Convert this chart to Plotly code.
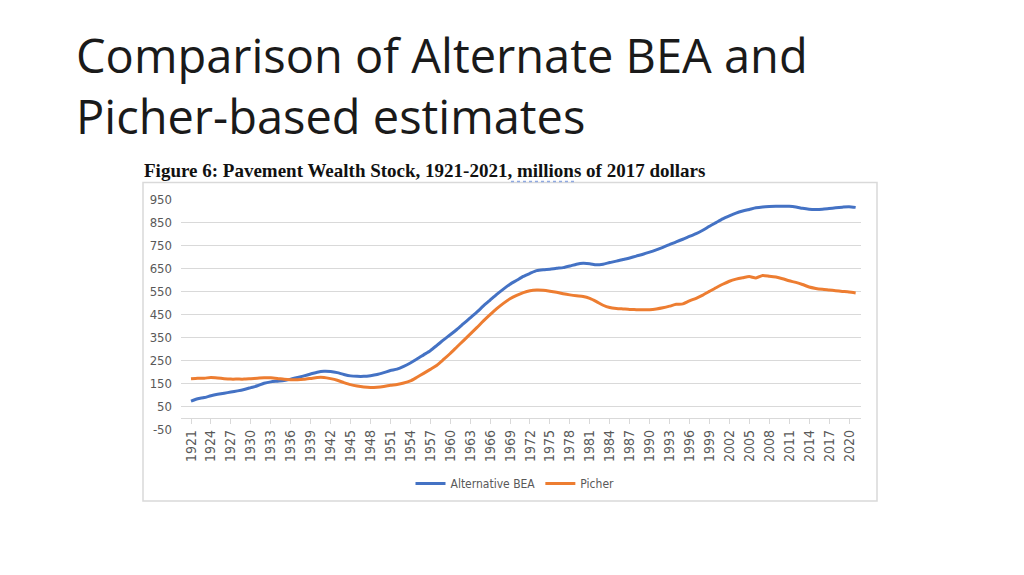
import plotly.graph_objects as go

# %%
years = list(range(1921, 2022))

alt_bea = [
    75, 85, 90, 98, 104, 109, 114, 119, 125, 133,
    141, 152, 158, 161, 164, 170, 177, 184, 192, 200,
    204, 203, 198, 190, 184, 182, 182, 185, 190, 198,
    207, 213, 225, 240, 257, 275, 293, 316, 340, 362,
    385, 410, 435, 460, 487, 512, 537, 560, 581, 598,
    615, 628, 640, 644, 646, 650, 653, 660, 668, 672,
    670, 665, 668, 675, 681, 688, 695, 703, 711, 720,
    730, 741, 753, 765, 776, 788, 800, 815, 832, 848,
    864, 877, 889, 898, 905, 912, 916, 918, 919, 919,
    919, 916, 910, 906, 905, 906, 909, 912, 915, 917,
    914,
]

picher = [
    172, 174, 174, 177, 175, 172, 170, 170, 170, 172,
    174, 176, 176, 173, 169, 167, 167, 169, 173, 177,
    177, 172, 165, 155, 146, 140, 136, 134, 135, 138,
    143, 147, 153, 162, 178, 195, 212, 230, 255, 281,
    309, 337, 365, 393, 422, 449, 475, 498, 518, 533,
    545, 553, 556, 555, 551, 546, 540, 535, 531, 528,
    520, 506, 490, 480, 476, 474, 472, 471, 470, 471,
    474, 479, 486, 494, 496, 509, 520, 534, 550, 566,
    581, 594, 603, 609, 614, 608, 619, 616, 612, 605,
    596, 589, 580, 569, 563, 559, 556, 553, 550, 547,
    543,
]

year_ticks = list(range(1921, 2021, 3))
value_ticks = list(range(-50, 1000, 100))

SLIDE_TITLE = "Comparison of Alternate BEA and<br>Picher-based estimates"
FIG_TITLE = "Figure 6: Pavement Wealth Stock, 1921-2021, millions of 2017 dollars"

W, H = 1024, 575
OFF = 8  # page body margin shifts everything by 8px
GREY = "#595959"
NARROW = "Liberation Sans Narrow, DejaVu Sans Condensed, Arial Narrow, sans-serif"


def px_x(x):
    return (x - OFF) / W


def px_y(y):
    return 1 - (y - OFF) / H


# plot area in pixels
left, right = 181, 861
top, bottom = 197, 434
y_dom = [px_y(bottom), px_y(top)]
zero_pos = y_dom[0] + (0 - (-50)) / 1000 * (y_dom[1] - y_dom[0])

# x range chosen so 1921 sits at px 191 and 2020 at px 849
per_year = (849 - 191) / 99
x_range = [1921 - (191 - left) / per_year, 2020 + (right - 849) / per_year]

# %%
fig = go.Figure()
fig.add_trace(go.Scatter(
    x=years, y=alt_bea, name="Alternative BEA", mode="lines",
    line=dict(color="#4472C4", width=3, shape="spline", smoothing=0.6),
))
fig.add_trace(go.Scatter(
    x=years, y=picher, name="Picher", mode="lines",
    line=dict(color="#ED7D31", width=3, shape="spline", smoothing=0.6),
))

fig.update_layout(
    width=W, height=H,
    margin=dict(l=0, r=0, t=0, b=0),
    paper_bgcolor="white", plot_bgcolor="white",
    showlegend=True,
    legend=dict(
        orientation="h", x=px_x(507 + OFF), xanchor="center", y=px_y(489), yanchor="middle",
        font=dict(family=NARROW, size=12, color=GREY),
        itemwidth=30, bgcolor="rgba(0,0,0,0)",
    ),
    xaxis=dict(
        domain=[px_x(left), px_x(right)], range=x_range,
        anchor="free", position=zero_pos,
        tickmode="array", tickvals=year_ticks, tickangle=-90,
        ticks="outside", ticklen=5, tickcolor="#d9d9d9",
        showline=True, linecolor="#d9d9d9", linewidth=1,
        showgrid=False, zeroline=False,
        tickfont=dict(family=NARROW, size=14, color=GREY),
    ),
    yaxis=dict(
        domain=y_dom, range=[-50, 950],
        tickmode="array", tickvals=value_ticks,
        ticktext=[str(v) for v in value_ticks],
        showgrid=True, gridcolor="#d9d9d9", gridwidth=1,
        zeroline=False, showline=False, ticks="",
        ticklabelstandoff=8,
        tickfont=dict(family=NARROW, size=13, color=GREY),
    ),
)

# chart frame
fig.add_shape(
    type="rect", xref="paper", yref="paper",
    x0=px_x(143), x1=px_x(877), y0=px_y(507), y1=px_y(180),
    line=dict(color="#d9d9d9", width=1.5), layer="below",
)

# slide title
fig.add_annotation(
    text=SLIDE_TITLE, xref="paper", yref="paper",
    x=px_x(74), y=px_y(80), xanchor="left", yanchor="middle",
    showarrow=False, align="left",
    font=dict(family="Open Sans, Noto Sans, sans-serif", size=47, color="#1a1a1a"),
)

# figure caption
fig.add_annotation(
    text="<b>" + FIG_TITLE + "</b>", xref="paper", yref="paper",
    x=px_x(142), y=px_y(168), xanchor="left", yanchor="middle",
    showarrow=False, align="left",
    font=dict(family="Liberation Serif, Times New Roman, serif", size=19, color="#111111"),
)
# spell-check squiggle under "millions"
fig.add_shape(
    type="line", xref="paper", yref="paper",
    x0=px_x(511), x1=px_x(577), y0=px_y(179), y1=px_y(179),
    line=dict(color="#8fa9e0", width=1.5, dash="dot"),
)

fig.write_html("out.html")
